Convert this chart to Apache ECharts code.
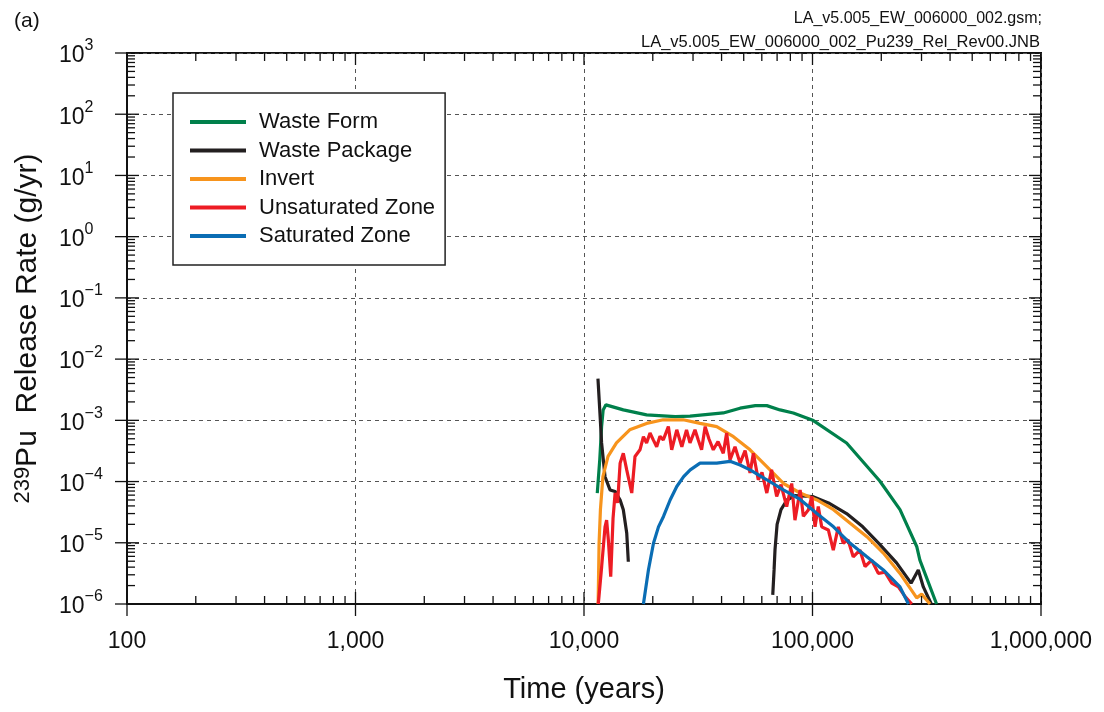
<!DOCTYPE html>
<html><head><meta charset="utf-8">
<script src="https://cdn.jsdelivr.net/npm/echarts@6/dist/echarts.min.js"></script>
<style>html,body{margin:0;padding:0;background:#fff}#c{width:1104px;height:712px}</style>
</head><body><div id="c"></div>
<script>
// ---- data (x = time in years, y = release rate g/yr) ----
const seriesNames = ['Waste Form', 'Waste Package', 'Invert', 'Unsaturated Zone', 'Saturated Zone'];
const seriesColors = ['#00804b', '#231f20', '#f7941d', '#ed1c24', '#0a6db4'];

const wasteForm = [
  [11430,6.46e-5],[11720,2.26e-4],[11940,7.9e-4],[12130,1.48e-3],[12470,1.79e-3],
  [14860,1.48e-3],[18790,1.23e-3],[25100,1.15e-3],[29100,1.17e-3],[40700,1.32e-3],
  [48200,1.58e-3],[56200,1.74e-3],[63100,1.74e-3],[72100,1.48e-3],[82400,1.32e-3],
  [100900,9.9e-4],[141000,4.27e-4],[197000,1.02e-4],[241500,3.47e-5],[285800,8.7e-6],
  [295100,5.2e-6],[349100,1.0e-6]
];
const wastePackage = [
  [11510,4.8e-3],[11720,1.48e-3],[11940,4.27e-4],[12360,1.2e-4],[13000,7.3e-5],
  [13680,6.9e-5],[14390,5.0e-5],[14860,3.47e-5],[15380,1.45e-5],[15630,4.9e-6],
  [40000,'-'],
  [67000,1.41e-6],[67900,3.6e-6],[68550,7.8e-6],[70000,2.0e-5],[72800,3.47e-5],
  [77300,5.0e-5],[83800,5.9e-5],[100000,5.7e-5],[117500,4.47e-5],[141000,3.0e-5],
  [166000,1.82e-5],[195000,9.8e-6],[233300,4.7e-6],[270000,2.19e-6],[290400,3.6e-6],
  [305500,1.9e-6],[331000,1.0e-6]
];
const invert = [
  [11530,1.0e-6],[11640,9.8e-6],[11800,3.47e-5],[12100,1.2e-4],[12740,2.57e-4],
  [13870,4.27e-4],[15850,7.0e-4],[18790,8.9e-4],[22230,1.02e-3],[27160,1.02e-3],
  [32200,8.9e-4],[38100,7.9e-4],[45100,5.4e-4],[53300,3.3e-4],[63100,1.76e-4],
  [74600,9.3e-5],[88300,6.5e-5],[104500,5.0e-5],[123600,3.47e-5],[146200,2.09e-5],
  [173000,1.26e-5],[204200,6.8e-6],[241500,3.16e-6],[276700,1.51e-6],[285800,1.26e-6],
  [300600,1.45e-6],[326600,1.0e-6]
];
const unsaturatedZone = [
  [11550,1.0e-6],[11950,4.1e-6],[12360,1.82e-5],[12560,2.34e-5],[12780,1.12e-5],
  [13090,2.8e-6],[13400,2.5e-5],[13680,6.5e-5],[14030,4.5e-5],[14390,2.0e-4],
  [14860,2.9e-4],[15380,1.55e-4],[16180,6.5e-5],[16720,2.57e-4],[17580,3.3e-4],
  [18200,5.4e-4],[18790,4.27e-4],[19450,6.2e-4],[20100,4.8e-4],[20800,3.7e-4],
  [21500,5.5e-4],[22230,4.8e-4],[23400,7.9e-4],[24200,3.3e-4],[25470,7.0e-4],
  [26800,3.7e-4],[28100,7.0e-4],[29100,4.27e-4],[30600,7.0e-4],[31600,4.8e-4],
  [32700,3.3e-4],[33900,7.9e-4],[35200,5.0e-4],[36800,3.3e-4],[38600,4.5e-4],
  [40700,2.9e-4],[42100,6.2e-4],[43550,2.26e-4],[45800,3.7e-4],[48200,2.0e-4],
  [50700,3.2e-4],[53300,1.38e-4],[55100,2.9e-4],[57900,1.07e-4],[60100,1.41e-4],
  [63100,6.5e-5],[66200,1.55e-4],[69700,5.7e-5],[72800,8.9e-5],[77100,3.9e-5],
  [81100,9.3e-5],[83800,2.34e-5],[88300,7.3e-5],[91200,2.7e-5],[96000,3.47e-5],
  [99300,5.7e-5],[102600,1.82e-5],[106000,3.9e-5],[109700,1.82e-5],[117300,1.62e-5],
  [123300,7.6e-6],[129700,1.82e-5],[136400,9.8e-6],[143000,1.12e-5],[150700,5.9e-6],
  [161300,7.6e-6],[169800,4.1e-6],[181600,5.2e-6],[194100,3.16e-6],[207600,3.3e-6],
  [222300,2.19e-6],[237600,1.9e-6],[254300,1.32e-6],[271800,1.0e-6]
];
const saturatedZone = [
  [18200,1.0e-6],[19140,3.6e-6],[20140,9.8e-6],[21180,1.82e-5],[22280,2.69e-5],
  [23820,5.0e-5],[25470,8.3e-5],[27290,1.2e-4],[29170,1.55e-4],[32200,2.0e-4],
  [38100,2.0e-4],[43550,2.14e-4],[48200,1.86e-4],[53300,1.55e-4],[63100,1.07e-4],
  [74600,7.3e-5],[88300,5.1e-5],[104500,3.0e-5],[123600,1.82e-5],[146200,9.8e-6],
  [173000,5.9e-6],[204200,3.6e-6],[241500,1.9e-6],[263000,1.0e-6]
];

// ---- axis ranges / tick labels ----
const xMin = 100, xMax = 1000000;
const yMin = 1e-6, yMax = 1e3;
const xDecades = [100, 1000, 10000, 100000, 1000000];
const yDecades = [1e-6,1e-5,1e-4,1e-3,1e-2,1e-1,1,10,100,1000];
const minorMultipliers = [2,3,4,5,6,7,8,9];

const allData = [wasteForm, wastePackage, invert, unsaturatedZone, saturatedZone];

function fmtThousands(v){ return String(Math.round(v)).replace(/\B(?=(\d{3})+(?!\d))/g, ','); }
function supExp(v){ const e = Math.round(Math.log10(v)); return (e < 0 ? '\u2212' + (-e) : String(e)); }

const xTickData = [];
xDecades.forEach((d,i)=>{ xTickData.push([d,1,1]); if(i<xDecades.length-1) minorMultipliers.forEach(m=>xTickData.push([d*m,1,0])); });
const yTickData = [];
yDecades.forEach((d,i)=>{ yTickData.push([1000,d,1]); if(i<yDecades.length-1) minorMultipliers.forEach(m=>yTickData.push([1000,d*m,0])); });

const chart = echarts.init(document.getElementById('c'), null, {renderer:'canvas'});

const lineSeries = seriesNames.map((n,i)=>({
  name:n, type:'line', data: allData[i], showSymbol:false, symbol:'none',
  lineStyle:{width:3.2, color:seriesColors[i]}, itemStyle:{color:seriesColors[i]},
  connectNulls:false, clip:true, z: 3 + i
}));

const tickStyle = {stroke:'#111', lineWidth:1.3};
const majorLen = 12, minorLen = 8;

const option = {
  animation:false,
  backgroundColor:'#fff',
  textStyle:{fontFamily:'Liberation Sans, Arial, sans-serif'},
  title:[
    {text:'(a)', left:9, top:6, textStyle:{fontSize:21, fontWeight:'normal', color:'#111', fontFamily:'Liberation Sans'}},
    {text:'LA_v5.005_EW_006000_002.gsm;', right:57, top:6, textStyle:{fontSize:16, fontWeight:'normal', color:'#111', fontFamily:'Liberation Sans'}},
    {text:'LA_v5.005_EW_006000_002_Pu239_Rel_Rev00.JNB', right:59, top:29, textStyle:{fontSize:16.5, fontWeight:'normal', color:'#111', fontFamily:'Liberation Sans'}}
  ],
  grid:{left:127, right:63, top:53, bottom:108, show:true, borderColor:'#111', borderWidth:2, backgroundColor:'#fff'},
  legend:{
    data: seriesNames, orient:'vertical', left:173, top:93,
    backgroundColor:'#fff', borderColor:'#222', borderWidth:1.5,
    padding:[17, 10, 17, 17], itemGap:4.5, itemWidth:56, itemHeight:4, icon:'rect',
    textStyle:{fontSize:22, color:'#111', lineHeight:24, padding:[0,0,0,8], fontFamily:'Liberation Sans'}
  },
  xAxis:[{
    type:'log', logBase:10, min:xMin, max:xMax, splitNumber:4,
    name:'Time (years)', nameLocation:'middle', nameGap:71,
    nameTextStyle:{fontSize:29, color:'#111', fontFamily:'Liberation Sans'},
    axisLine:{show:true, lineStyle:{color:'#111', width:2}},
    axisTick:{show:false},
    axisLabel:{fontSize:23, color:'#111', margin:26, formatter:v=>fmtThousands(v), fontFamily:'Liberation Sans'},
    splitLine:{show:true, lineStyle:{color:'#555', type:[4,4], width:1}},
    minorTick:{show:false}, minorSplitLine:{show:false}
  }],
  yAxis:[{
    type:'log', logBase:10, min:yMin, max:yMax, splitNumber:9,
    name:'{s|239}{m|Pu  Release Rate (g/yr)}', nameLocation:'middle', nameGap:83, nameRotate:90,
    nameTextStyle:{color:'#111', rich:{
      s:{fontSize:22, color:'#111', fontFamily:'Liberation Sans', verticalAlign:'top', lineHeight:32},
      m:{fontSize:30, color:'#111', fontFamily:'Liberation Sans', lineHeight:32}
    }},
    axisLine:{show:true, lineStyle:{color:'#111', width:2}},
    axisTick:{show:false},
    axisLabel:{align:'left', margin:68, color:'#111',
      formatter:v=>'{b|10}{e|' + supExp(v) + '}',
      rich:{ b:{fontSize:23, color:'#111', fontFamily:'Liberation Sans', lineHeight:30, padding:[6,0,0,0]},
             e:{fontSize:16, color:'#111', fontFamily:'Liberation Sans', verticalAlign:'top', lineHeight:30} }},
    splitLine:{show:true, lineStyle:{color:'#555', type:[4,4], width:1}},
    minorTick:{show:false}, minorSplitLine:{show:false}
  }],
  series: lineSeries.concat([
    {
      type:'custom', silent:true, z:20, clip:false, data:xTickData, encode:{x:0,y:1},
      renderItem:(params, api)=>{
        const v = api.value(0), major = api.value(2) === 1;
        const b = api.coord([v, yMin]), t = api.coord([v, yMax]);
        const len = major ? majorLen : minorLen;
        const ch = [
          {type:'line', shape:{x1:b[0], y1:b[1], x2:b[0], y2:b[1]-len}, style:tickStyle},
          {type:'line', shape:{x1:t[0], y1:t[1], x2:t[0], y2:t[1]+len}, style:tickStyle}
        ];
        if (major) ch.push({type:'line', shape:{x1:b[0], y1:b[1], x2:b[0], y2:b[1]+majorLen}, style:tickStyle});
        return {type:'group', children:ch};
      }
    },
    {
      type:'custom', silent:true, z:20, clip:false, data:yTickData, encode:{x:0,y:1},
      renderItem:(params, api)=>{
        const v = api.value(1), major = api.value(2) === 1;
        const l = api.coord([xMin, v]), r = api.coord([xMax, v]);
        const len = major ? majorLen : minorLen;
        const ch = [
          {type:'line', shape:{x1:l[0], y1:l[1], x2:l[0]+len, y2:l[1]}, style:tickStyle},
          {type:'line', shape:{x1:r[0], y1:r[1], x2:r[0]-len, y2:r[1]}, style:tickStyle}
        ];
        if (major) ch.push({type:'line', shape:{x1:l[0], y1:l[1], x2:l[0]-majorLen, y2:l[1]}, style:tickStyle});
        return {type:'group', children:ch};
      }
    }
  ])
};
chart.setOption(option);
</script>
</body></html>
